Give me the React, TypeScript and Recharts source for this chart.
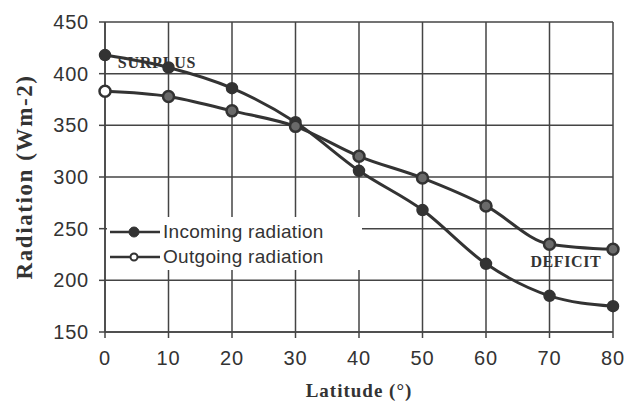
import React from 'react';
import { LineChart, Line, XAxis, YAxis, CartesianGrid, Legend, ReferenceDot } from 'recharts';

const latitudes = [0, 10, 20, 30, 40, 50, 60, 70, 80];
const incoming = [418, 406, 386, 353, 306, 268, 216, 185, 175];
const outgoing = [383, 378, 364, 349, 320, 299, 272, 235, 230];
const xTicks = [0, 10, 20, 30, 40, 50, 60, 70, 80];
const yTicks = [150, 200, 250, 300, 350, 400, 450];

const data = latitudes.map((lat, i) => ({ lat, incoming: incoming[i], outgoing: outgoing[i] }));

const INK = '#333333';
const sans = '"Liberation Sans", Arial, sans-serif';
const serif = '"Liberation Serif", "Times New Roman", serif';

const LegendContent = (props: any) => {
  const payload = props.payload || [];
  return (
    <div style={{ display: 'flex', flexDirection: 'column', background: '#ffffff', padding: '2px 0 1px 3px', height: 53, boxSizing: 'border-box' }}>
      {payload.map((p: any) => (
        <div key={p.value} style={{ display: 'flex', alignItems: 'center', height: 26 }}>
          <svg width={50} height={14}>
            <line x1={0} y1={7} x2={50} y2={7} stroke={INK} strokeWidth={2.5} />
            {p.dataKey === 'incoming' ? (
              <circle cx={24} cy={7} r={5} fill={INK} stroke={INK} strokeWidth={1} />
            ) : (
              <circle cx={24} cy={7} r={3.5} fill="#ffffff" stroke={INK} strokeWidth={2} />
            )}
          </svg>
          <span style={{ fontFamily: sans, fontSize: 19, color: INK, marginLeft: 3, letterSpacing: 0.3 }}>{p.value}</span>
        </div>
      ))}
    </div>
  );
};

const OutDot = (props: any) => {
  const { cx, cy, index } = props;
  if (cx == null || cy == null) return null;
  return <circle cx={cx} cy={cy} r={5.5} fill={index === 0 ? '#ffffff' : '#6a6a6a'} stroke={INK} strokeWidth={2.5} />;
};

export default function App() {
  return (
    <div style={{ position: 'absolute', left: 0, top: 0, background: '#fff' }}>
      <LineChart width={627} height={402} data={data} margin={{ top: 22, right: 14, bottom: 0, left: 0 }}>
        <CartesianGrid stroke="#444" strokeWidth={1.5} />
        <XAxis
          dataKey="lat"
          type="number"
          domain={[0, 80]}
          ticks={xTicks}
          height={70}
          axisLine={{ stroke: '#444', strokeWidth: 1.5 }}
          tickLine={{ stroke: '#444', strokeWidth: 1.5 }}
          tickSize={6}
          tickMargin={13}
          tick={{ fontFamily: sans, fontSize: 20, fill: INK, letterSpacing: 0.8 }}
          label={{ value: 'Latitude (°)', position: 'insideBottom', offset: 5, style: { fontFamily: serif, fontWeight: 'bold', fontSize: 19, fill: INK, letterSpacing: 1 } }}
        />
        <YAxis
          type="number"
          domain={[150, 450]}
          ticks={yTicks}
          width={105}
          axisLine={{ stroke: '#444', strokeWidth: 1.5 }}
          tickLine={{ stroke: '#444', strokeWidth: 1.5 }}
          tickSize={6}
          tickMargin={10}
          tick={{ fontFamily: sans, fontSize: 20, fill: INK, letterSpacing: 0.8 }}
          label={{ value: 'Radiation (Wm-2)', angle: -90, position: 'insideLeft', offset: 24, style: { fontFamily: serif, fontWeight: 'bold', fontSize: 23, fill: INK, textAnchor: 'middle', letterSpacing: 1.6 } }}
        />
        <Legend
          layout="vertical"
          verticalAlign="middle"
          align="center"
          wrapperStyle={{ left: 107, top: 217, width: 255, height: 53 }}
          content={<LegendContent />}
        />
        <Line
          dataKey="incoming"
          name="Incoming radiation"
          type="monotone"
          stroke={INK}
          strokeWidth={3}
          dot={{ r: 5.5, fill: INK, stroke: INK, strokeWidth: 1.5 }}
          isAnimationActive={false}
        />
        <Line
          dataKey="outgoing"
          name="Outgoing radiation"
          type="monotone"
          stroke={INK}
          strokeWidth={3}
          dot={<OutDot />}
          isAnimationActive={false}
        />
        <ReferenceDot
          x={2}
          y={411}
          r={0}
          fill="none"
          stroke="none"
          label={{ value: 'SURPLUS', position: 'right', offset: 0, style: { fontFamily: serif, fontWeight: 'bold', fontSize: 16, fill: INK, letterSpacing: 0.8 } }}
        />
        <ReferenceDot
          x={67}
          y={218}
          r={0}
          fill="none"
          stroke="none"
          label={{ value: 'DEFICIT', position: 'right', offset: 0, style: { fontFamily: serif, fontWeight: 'bold', fontSize: 16, fill: INK, letterSpacing: 0.6 } }}
        />
      </LineChart>
    </div>
  );
}
